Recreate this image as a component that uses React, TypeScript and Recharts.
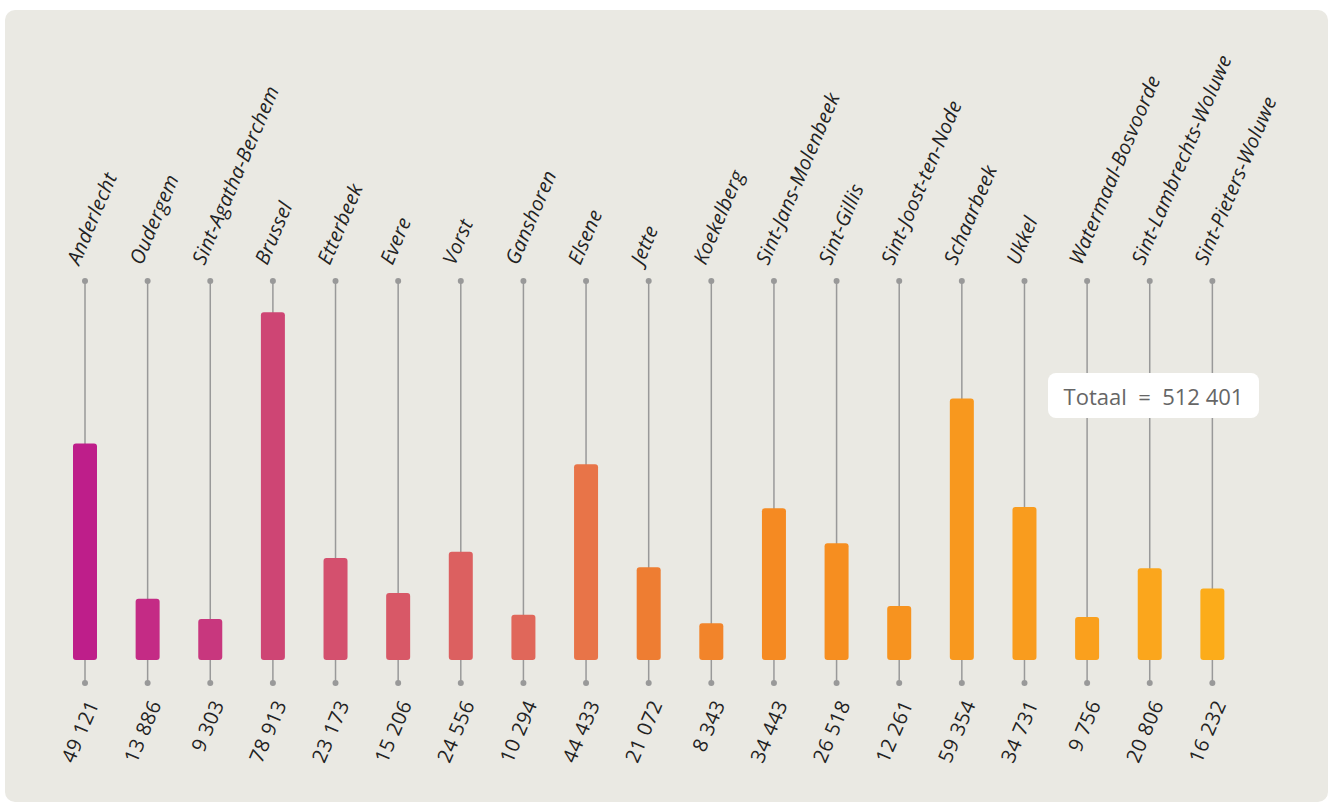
import { Bar, BarChart, Cell, XAxis, YAxis } from "recharts";

const COMMUNES = [
  "Anderlecht",
  "Oudergem",
  "Sint-Agatha-Berchem",
  "Brussel",
  "Etterbeek",
  "Evere",
  "Vorst",
  "Ganshoren",
  "Elsene",
  "Jette",
  "Koekelberg",
  "Sint-Jans-Molenbeek",
  "Sint-Gillis",
  "Sint-Joost-ten-Node",
  "Schaarbeek",
  "Ukkel",
  "Watermaal-Bosvoorde",
  "Sint-Lambrechts-Woluwe",
  "Sint-Pieters-Woluwe",
];

const VALUES = [
  49121, 13886, 9303, 78913, 23173, 15206, 24556, 10294, 44433, 21072, 8343, 34443, 26518,
  12261, 59354, 34731, 9756, 20806, 16232,
];

const COLORS = [
  "#BE1E8A",
  "#C42B85",
  "#C8377E",
  "#CE4574",
  "#D4506E",
  "#D85867",
  "#DC6060",
  "#E0675A",
  "#E87448",
  "#EE7D32",
  "#F2842A",
  "#F58A22",
  "#F68E20",
  "#F7931F",
  "#F8981E",
  "#F99C1E",
  "#FAA01D",
  "#FBA61C",
  "#FCAC1A",
];

const TOTAL_LABEL = "Totaal  =  512 401";

const fmt = (v: number) => String(v).replace(/\B(?=(\d{3})+(?!\d))/g, " ");

const data = COMMUNES.map((name, i) => ({
  name,
  value: VALUES[i],
  label: fmt(VALUES[i]),
  color: COLORS[i],
}));

const ANGLE = -67;
const FONT = "'Open Sans', 'DejaVu Sans', sans-serif";

function NameTick({ x, payload }: any) {
  const tx = x - 6;
  const ty = 266;
  return (
    <text
      x={tx}
      y={ty}
      transform={`rotate(${ANGLE} ${tx} ${ty})`}
      textAnchor="start"
      fontFamily={FONT}
      fontStyle="italic"
      fontSize={20}
      letterSpacing={0.3}
      fill="#222"
    >
      {payload.value}
    </text>
  );
}

function ValueTick({ x, payload }: any) {
  const tx = x + 14;
  const ty = 704;
  return (
    <text
      x={tx}
      y={ty}
      transform={`rotate(${ANGLE} ${tx} ${ty})`}
      textAnchor="end"
      fontFamily={FONT}
      fontSize={20}
      letterSpacing={0.5}
      fill="#222"
    >
      {payload.value}
    </text>
  );
}

function Stem(props: any) {
  const { x, y, width, height } = props;
  const cx = x + width / 2;
  const bottom = y + height + 23;
  return (
    <g>
      <line x1={cx} x2={cx} y1={y} y2={bottom} stroke="#999" strokeWidth={1.5} />
      <circle cx={cx} cy={y} r={3} fill="#999" />
      <circle cx={cx} cy={bottom} r={3} fill="#999" />
    </g>
  );
}

function RoundedBar(props: any) {
  const { x, y, width, height, fill } = props;
  return <rect x={x} y={y} width={width} height={height} rx={3} ry={3} fill={fill} />;
}

export default function App() {
  return (
    <div style={{ position: "absolute", left: 0, top: 0, width: 1334, height: 804, background: "#fff" }}>
      <div
        style={{
          position: "absolute",
          left: 5,
          top: 10,
          width: 1323,
          height: 792,
          background: "#EAE9E3",
          borderRadius: 10,
        }}
      />
      <div style={{ position: "absolute", left: 0, top: 0 }}>
        <BarChart
          width={1334}
          height={804}
          data={data}
          margin={{ top: 261, right: 90, bottom: 124, left: 54 }}
          barCategoryGap={0}
        >
          <XAxis
            xAxisId="names"
            dataKey="name"
            orientation="top"
            height={20}
            interval={0}
            axisLine={false}
            tickLine={false}
            tick={<NameTick />}
          />
          <XAxis
            xAxisId="values"
            dataKey="label"
            orientation="bottom"
            height={20}
            interval={0}
            axisLine={false}
            tickLine={false}
            tick={<ValueTick />}
          />
          <YAxis hide domain={[0, 86000]} />
          <Bar
            xAxisId="names"
            dataKey="value"
            barSize={24}
            background={<Stem />}
            shape={<RoundedBar />}
            isAnimationActive={false}
          >
            {data.map((d) => (
              <Cell key={d.name} fill={d.color} />
            ))}
          </Bar>
        </BarChart>
      </div>
      <div
        style={{
          position: "absolute",
          left: 1048,
          top: 373,
          width: 211,
          height: 45,
          background: "#fff",
          borderRadius: 8,
          display: "flex",
          alignItems: "center",
          justifyContent: "center",
          fontFamily: FONT,
          fontSize: 22,
          color: "#666",
          whiteSpace: "pre",
        }}
      >
        {TOTAL_LABEL}
      </div>
    </div>
  );
}
